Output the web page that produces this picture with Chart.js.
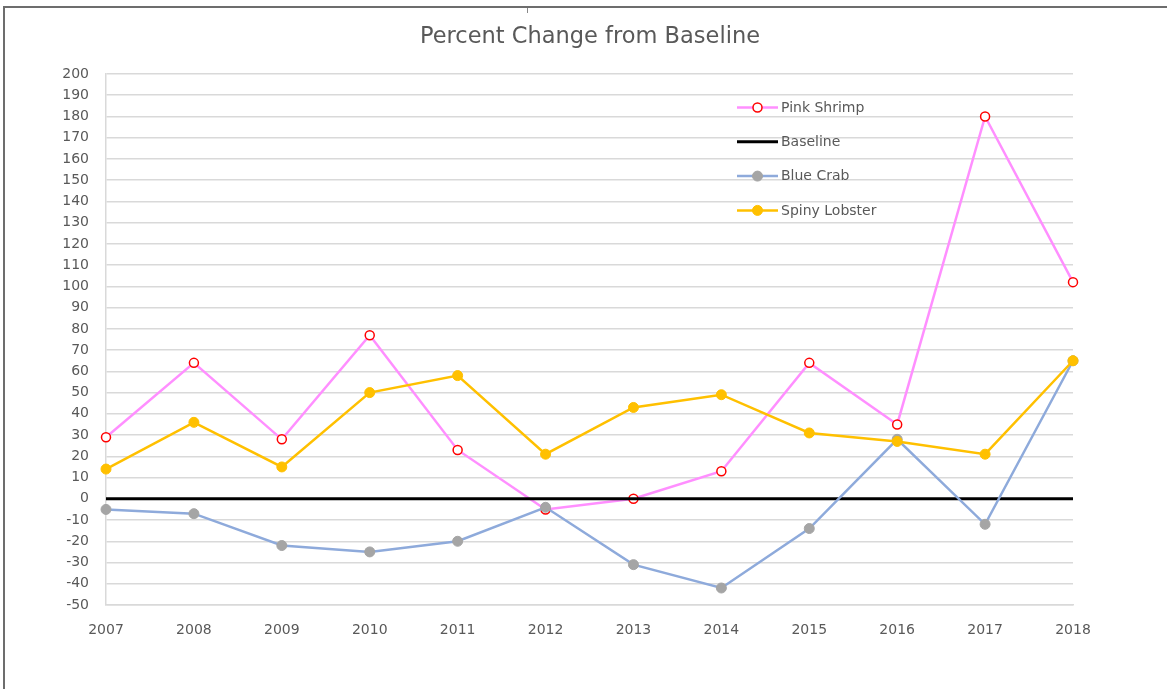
<!DOCTYPE html>
<html>
<head>
<meta charset="utf-8">
<script src="https://cdn.jsdelivr.net/npm/chart.js@4.4.1/dist/chart.umd.min.js"></script>
<style>
    html, body { margin: 0; padding: 0; background: #fff; }
    #wrap { position: absolute; left: 0; top: 0; width: 1167px; height: 689px; }
    #frame { position: absolute; left: 3px; top: 6px; right: 0; bottom: 0;
             border-top: 2px solid #6d6d6d; border-left: 2px solid #6d6d6d; pointer-events: none; }
    #nub { position: absolute; left: 527px; top: 8px; width: 1px; height: 5px; background: #888; }
</style>
</head>
<body>
<div id="wrap"><canvas id="chart"></canvas></div>
<div id="frame"></div>
<div id="nub"></div>
<script>
// Data
const years = ['2007', '2008', '2009', '2010', '2011', '2012', '2013', '2014', '2015', '2016', '2017', '2018'];
const pinkShrimp = [29, 64, 28, 77, 23, -5, 0, 13, 64, 35, 180, 102];
const baseline = [0, 0, 0, 0, 0, 0, 0, 0, 0, 0, 0, 0];
const blueCrab = [-5, -7, -22, -25, -20, -4, -31, -42, -14, 28, -12, 65];
const spinyLobster = [14, 36, 15, 50, 58, 21, 43, 49, 31, 27, 21, 65];
const yMin = -50, yMax = 200, yStep = 10;

const textColor = '#595959';
const gridColor = '#d9d9d9';
const fontFamily = '"DejaVu Sans", sans-serif';

// Legend drawn inside the plot, like the spreadsheet original
const insideLegend = {
    id: 'insideLegend',
    afterDraw(chart) {
        const ctx = chart.ctx;
        const x0 = 737, lineLen = 41, y0 = 107.5, rowGap = 34.3;
        ctx.save();
        ctx.font = '14px ' + fontFamily;
        ctx.textBaseline = 'middle';
        chart.data.datasets.forEach((ds, i) => {
            const y = y0 + i * rowGap;
            ctx.strokeStyle = ds.borderColor;
            ctx.lineWidth = ds.borderWidth;
            ctx.beginPath();
            ctx.moveTo(x0, y);
            ctx.lineTo(x0 + lineLen, y);
            ctx.stroke();
            if (ds.pointRadius > 0) {
                ctx.beginPath();
                ctx.arc(x0 + lineLen / 2, y, ds.pointRadius, 0, Math.PI * 2);
                ctx.fillStyle = ds.pointBackgroundColor;
                ctx.fill();
                ctx.lineWidth = ds.pointBorderWidth;
                ctx.strokeStyle = ds.pointBorderColor;
                ctx.stroke();
            }
            ctx.fillStyle = textColor;
            ctx.fillText(ds.label, x0 + lineLen + 3, y + 0.5);
        });
        ctx.restore();
    }
};

new Chart(document.getElementById('chart'), {
    type: 'line',
    data: {
        labels: years,
        datasets: [
            {
                label: 'Pink Shrimp',
                data: pinkShrimp,
                borderColor: '#ff8fff',
                borderWidth: 2.5,
                pointRadius: 4.5,
                pointBackgroundColor: '#ffffff',
                pointBorderColor: '#ff0000',
                pointBorderWidth: 1.5,
                order: 4
            },
            {
                label: 'Baseline',
                data: baseline,
                borderColor: '#000000',
                borderWidth: 3,
                pointRadius: 0,
                order: 3
            },
            {
                label: 'Blue Crab',
                data: blueCrab,
                borderColor: '#8eaadb',
                borderWidth: 2.5,
                pointRadius: 5,
                pointBackgroundColor: '#a5a5a5',
                pointBorderColor: '#a5a5a5',
                pointBorderWidth: 1,
                order: 2
            },
            {
                label: 'Spiny Lobster',
                data: spinyLobster,
                borderColor: '#ffc000',
                borderWidth: 2.5,
                pointRadius: 5,
                pointBackgroundColor: '#ffc000',
                pointBorderColor: '#ffc000',
                pointBorderWidth: 1,
                order: 1
            }
        ]
    },
    options: {
        responsive: true,
        maintainAspectRatio: false,
        animation: false,
        layout: { padding: { top: 0, left: 13, right: 0, bottom: 0 } },
        plugins: {
            legend: { display: false },
            tooltip: { enabled: false },
            title: {
                display: true,
                text: 'Percent Change from Baseline',
                color: textColor,
                font: { family: fontFamily, size: 22.5, weight: 'normal' },
                padding: { top: 24, bottom: 23 }
            }
        },
        scales: {
            x: {
                offset: false,
                grid: { display: false, drawTicks: false },
                border: { display: true, color: gridColor, width: 1.5 },
                ticks: { color: textColor, font: { family: fontFamily, size: 14 }, padding: 17, maxRotation: 0 },
                afterFit: s => { s.height = 84; }
            },
            y: {
                min: yMin,
                max: yMax,
                grid: { color: gridColor, lineWidth: 1.5, drawTicks: false },
                border: { display: true, color: gridColor, width: 1.5 },
                ticks: { stepSize: yStep, color: textColor, font: { family: fontFamily, size: 14 }, padding: 17 },
                afterFit: s => { s.width = 93; }
            },
            // empty right margin so the title centres on the whole box
            spacer: {
                type: 'linear',
                position: 'right',
                grid: { drawOnChartArea: false, drawTicks: false },
                border: { display: false },
                ticks: { display: false },
                afterFit: s => { s.width = 94; }
            }
        }
    },
    plugins: [insideLegend]
});
</script>
</body>
</html>
